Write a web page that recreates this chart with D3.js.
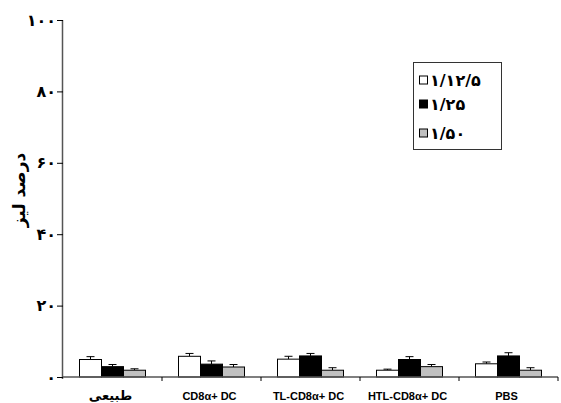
<!DOCTYPE html>
<html>
<head>
<meta charset="utf-8">
<script src="https://cdn.jsdelivr.net/npm/d3@7"></script>
<style>
  html, body { margin: 0; padding: 0; background: #fff; }
  svg { display: block; }
</style>
</head>
<body>
<svg id="chart" width="561" height="403"></svg>
<script>
// ---- data ----
const categories = ["طبیعی", "CD8α+ DC", "TL-CD8α+ DC", "HTL-CD8α+ DC", "PBS"];
const seriesNames = ["۱/۱۲/۵", "۱/۲۵", "۱/۵۰"];
const seriesColors = ["#ffffff", "#000000", "#c0c0c0"];
const valuesS1 = [4.9, 5.8, 5.0, 1.9, 3.7];
const valuesS2 = [2.9, 3.6, 5.9, 4.9, 5.9];
const valuesS3 = [1.9, 2.8, 1.9, 2.9, 1.9];
const errS1 = [0.8, 0.8, 0.8, 0.3, 0.5];
const errS2 = [0.6, 0.9, 0.7, 0.8, 0.9];
const errS3 = [0.4, 0.7, 0.7, 0.6, 0.7];
const yTicks = [0, 20, 40, 60, 80, 100];
const yTickLabels = ["۰", "۲۰", "۴۰", "۶۰", "۸۰", "۱۰۰"];
const yLabel = "درصد لیز";

const values = [valuesS1, valuesS2, valuesS3];
const errs = [errS1, errS2, errS3];

// ---- layout ----
const svg = d3.select("#chart");
const mLeft = 63, mRight = 558, mTop = 20, mBottom = 377;

const x0 = d3.scaleBand().domain(categories).range([mLeft, mRight]).padding(0);
const x1 = d3.scaleBand().domain(d3.range(seriesNames.length))
  .range([x0.bandwidth() / 6, x0.bandwidth() * 5 / 6]).padding(0);
const y = d3.scaleLinear().domain([0, 100]).range([mBottom, mTop]);

const rows = [];
categories.forEach((c, i) => {
  seriesNames.forEach((s, j) => {
    rows.push({c, j, v: values[j][i], e: errs[j][i]});
  });
});

// error bars (upper only)
const eb = svg.append("g").attr("stroke", "#000").attr("stroke-width", 1);
rows.forEach(d => {
  const cx = x0(d.c) + x1(d.j) + x1.bandwidth() / 2;
  eb.append("line").attr("x1", cx).attr("x2", cx)
    .attr("y1", y(d.v)).attr("y2", y(d.v + d.e));
  eb.append("line").attr("x1", cx - 4).attr("x2", cx + 4)
    .attr("y1", y(d.v + d.e)).attr("y2", y(d.v + d.e));
});

// bars
svg.append("g").selectAll("rect").data(rows).join("rect")
  .attr("x", d => x0(d.c) + x1(d.j))
  .attr("width", x1.bandwidth())
  .attr("y", d => y(d.v))
  .attr("height", d => y(0) - y(d.v))
  .attr("fill", d => seriesColors[d.j])
  .attr("stroke", "#000")
  .attr("stroke-width", 1);

// y axis
const yAxis = d3.axisLeft(y).tickValues(yTicks)
  .tickFormat((d, i) => yTickLabels[i]).tickSize(6).tickPadding(1);
const gy = svg.append("g").attr("transform", `translate(${mLeft},0)`).call(yAxis);
gy.select(".domain").attr("d", `M-0.5,${mTop}V${mBottom + 2}`).attr("stroke", "#555").attr("stroke-width", 1.5);
gy.selectAll(".tick line").attr("stroke", "#000");
gy.selectAll(".tick text").attr("font-family", "DejaVu Sans").attr("font-weight", "bold")
  .attr("font-size", 16).attr("fill", "#000");

// x axis
const gx = svg.append("g").attr("transform", `translate(0,${mBottom})`);
gx.append("line").attr("x1", mLeft).attr("x2", mRight).attr("y1", 0).attr("y2", 0)
  .attr("stroke", "#555").attr("stroke-width", 1.5);
const tickPos = categories.map(c => x0(c)).slice(1).concat([mRight]);
gx.selectAll("line.t").data(tickPos).join("line").attr("class", "t")
  .attr("x1", d => d).attr("x2", d => d).attr("y1", 0).attr("y2", 4)
  .attr("stroke", "#000");
gx.selectAll("text").data(categories).join("text")
  .attr("x", d => x0(d) + x0.bandwidth() / 2 - 2)
  .attr("y", 23)
  .attr("text-anchor", "middle")
  .attr("font-family", (d, i) => i === 0 ? "DejaVu Sans" : "Liberation Sans")
  .attr("font-weight", "bold")
  .attr("font-size", (d, i) => i === 0 ? 13 : 11)
  .text(d => d);

// y label
svg.append("text")
  .attr("transform", "translate(25,190) rotate(-90)")
  .attr("text-anchor", "middle")
  .attr("font-family", "DejaVu Sans")
  .attr("font-weight", "bold")
  .attr("font-size", 17)
  .text(yLabel);

// legend
const lg = svg.append("g");
lg.append("rect").attr("x", 413.5).attr("y", 62.5).attr("width", 88).attr("height", 87)
  .attr("fill", "#fff").attr("stroke", "#333").attr("stroke-width", 1);
const legY = [80, 104, 133];
seriesNames.forEach((s, j) => {
  lg.append("rect").attr("x", 419.5).attr("y", legY[j] - 4).attr("width", 8).attr("height", 8)
    .attr("fill", seriesColors[j]).attr("stroke", "#000").attr("stroke-width", 1);
  lg.append("text").attr("x", 430).attr("y", legY[j] + 6)
    .attr("font-family", "DejaVu Sans").attr("font-weight", "bold").attr("font-size", 16)
    .text(s);
});
</script>
</body>
</html>
